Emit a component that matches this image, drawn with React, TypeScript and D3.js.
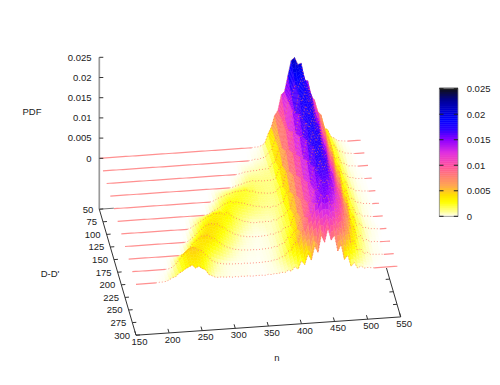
import { useEffect, useRef } from "react";
import * as d3 from "d3";

// D-D' rows and n columns of the table below
const dRows = [50, 75, 100, 125, 150, 175, 200, 225, 250, 275, 300];
const nCols = d3.range(150, 550, 5);

// PDF x 10^4, one line per 50 in n
const row50 = [
  0,0,0,0,0,0,0,0,0,0, 0,0,0,0,0,0,0,0,0,0, 0,0,0,0,0,0,0,0,0,0, 0,0,0,0,0,0,0,0,0,0,
  0,0,0,0,0,0,0,1,1,4, 9,31,48,76,88,126,134,172,209,216,
  198,201,158,156,118,108,78,70,36,32, 14,10,3,2,1,0,0,0,0,0];
const row75 = [
  0,0,0,0,0,0,0,0,0,0, 0,0,0,0,0,0,0,0,0,0, 0,0,0,0,0,0,0,0,0,0, 0,0,0,0,0,0,0,0,0,0,
  0,0,0,0,0,1,3,2,5,6, 16,23,48,62,95,97,139,148,180,174,
  195,172,172,132,123,88,84,55,46,23, 24,9,8,3,2,1,0,0,0,0];
const row100 = [
  0,0,0,0,0,0,0,0,0,0, 0,0,0,0,0,0,0,0,0,0, 0,0,0,0,0,0,0,0,0,0, 0,0,0,0,0,0,0,0,0,0,
  1,3,5,5,7,6,8,8,9,9, 21,25,56,58,104,99,151,141,187,169,
  194,167,180,128,134,83,90,49,51,21, 26,10,9,2,2,1,0,0,0,0];
const row125 = [
  0,0,0,0,0,0,0,0,0,0, 0,0,0,0,0,0,0,0,0,0, 0,0,0,0,0,0,0,0,0,0, 0,0,0,0,0,0,0,1,4,6,
  8,11,12,14,12,13,11,12,12,12, 16,39,46,81,84,128,123,171,158,190,
  167,188,146,153,106,109,67,70,33,37, 16,16,5,5,2,1,1,0,0,0];
const row150 = [
  0,0,0,0,0,0,0,0,0,0, 0,0,0,0,0,0,0,0,0,0, 0,0,0,0,0,0,0,0,0,0, 2,6,10,12,16,17,20,22,22,23,
  24,20,20,16,14,14,12,12,12,15, 25,26,62,63,107,104,148,146,181,167,
  190,160,171,125,130,83,90,48,55,21, 28,10,10,3,3,1,1,0,0,0];
const row175 = [
  0,0,0,0,0,0,0,0,0,0, 0,0,0,0,0,0,0,0,0,0, 0,0,0,0,0,0,0,1,5,10, 13,18,24,26,30,26,28,24,24,20,
  18,15,13,13,9,12,8,11,10,16, 19,42,44,84,83,128,123,169,157,188,
  164,185,141,148,102,107,65,70,30,39, 14,18,6,6,2,2,1,0,0,0];
const row200 = [
  0,0,0,0,0,0,0,0,0,0, 0,0,0,0,0,0,0,0,0,0, 0,3,8,12,18,22,28,30,35,34, 36,30,36,28,22,18,14,10,9,6,
  5,5,6,5,7,4,9,8,15,16, 28,33,67,65,109,106,151,141,183,162,
  187,155,165,120,125,79,86,44,51,18, 26,8,10,2,3,1,0,0,0,0];
const row225 = [
  0,0,0,0,0,0,0,0,0,0, 0,0,0,0,0,0,0,0,0,2, 8,14,22,28,36,40,42,40,40,32, 30,22,18,12,10,6,5,3,3,2,
  2,2,3,3,6,5,10,9,19,20, 23,48,55,86,88,128,125,165,153,181,
  157,176,134,141,97,102,62,67,26,37, 12,17,5,6,2,2,1,0,0,0];
const row250 = [
  0,0,0,0,0,0,0,0,0,0, 0,0,0,0,0,0,1,6,14,24, 32,38,44,44,46,38,36,28,22,16, 12,9,6,5,3,3,2,2,2,1,
  2,2,3,3,6,6,12,12,26,26, 40,44,72,74,109,111,139,139,165,153,
  164,141,143,107,111,72,72,39,42,12, 20,5,8,1,2,1,0,0,0,0];
const row275 = [
  0,0,0,0,0,0,0,0,0,0, 0,1,4,10,20,30,38,46,50,48, 42,40,30,24,14,10,6,5,3,3, 2,2,2,1,2,1,1,1,1,1,
  2,2,3,5,6,11,12,24,26,44, 44,70,72,104,108,138,136,160,146,158,
  128,134,96,108,62,72,34,40,14,18, 5,8,2,2,1,1,0,0,0,0];
const row300 = [
  0,0,0,0,0,0,0,1,1,2, 5,10,12,20,24,30,34,38,30,34, 28,24,12,8,4,3,4,2,3,1, 2,1,2,1,2,0,1,1,1,0,
  2,1,3,2,5,3,9,6,16,10, 30,20,46,30,64,48,90,72,106,76,
  88,48,64,26,36,8,16,2,7,1, 2,1,0,0,0,0,0,0,0,0];
const pdfRows = [row50, row75, row100, row125, row150, row175, row200, row225, row250, row275, row300];

// tick labels
const nTicks = [150, 200, 250, 300, 350, 400, 450, 500, 550];
const dTicks = [50, 75, 100, 125, 150, 175, 200, 225, 250, 275, 300];
const zTicks = [0, 0.005, 0.01, 0.015, 0.02, 0.025];

// palette, PDF x 10^4
const paletteStops = [0, 10, 28, 42, 60, 78, 100, 125, 150, 170, 190, 225, 250];
const paletteColors = ["#ffffff", "#ffff90", "#ffff00", "#ffe000", "#ffa850", "#ff8070", "#ff50a0", "#e030e0", "#9000ff", "#3000ff", "#0000ff", "#0000a0", "#101018"];

const FONT = "'Liberation Sans', Arial, sans-serif";
const Z_FLOOR = -0.0126;
const SUBSTEPS = 6;

export default function App() {
  const ref = useRef<SVGSVGElement>(null);

  useEffect(() => {
    const svg = d3.select(ref.current);
    svg.selectAll("*").remove();

    const nx = d3.scaleLinear().domain([150, 550]).range([0, 264.7]);
    const ny = d3.scaleLinear().domain([150, 550]).range([0, -18.3]);
    const dx = d3.scaleLinear().domain([50, 300]).range([99.3, 136]);
    const dy = d3.scaleLinear().domain([50, 300]).range([158.3, 284.3]);
    const zy = d3.scaleLinear().domain([0, 0.025]).range([0, -101]);
    const project = (n: number, d: number, z: number): [number, number] => [
      nx(n) + dx(d),
      ny(n) + dy(d) + zy(z),
    ];
    const color = d3.scaleLinear<string>().domain(paletteStops).range(paletteColors).interpolate(d3.interpolateRgb);

    // surface, back to front, each cell split in bands like pm3d interpolate
    const surface = svg.append("g");
    for (let j = 0; j < dRows.length - 1; j++) {
      for (let k = 0; k < SUBSTEPS; k++) {
        const t0 = k / SUBSTEPS;
        const t1 = (k + 1) / SUBSTEPS;
        const d0 = dRows[j] + (dRows[j + 1] - dRows[j]) * t0;
        const d1 = dRows[j] + (dRows[j + 1] - dRows[j]) * t1;
        for (let i = nCols.length - 2; i >= 0; i--) {
          const at = (c: number, t: number) => pdfRows[j][c] * (1 - t) + pdfRows[j + 1][c] * t;
          const v = [at(i, t0), at(i + 1, t0), at(i + 1, t1), at(i, t1)];
          if (d3.max(v) === 0) continue;
          const pts = [
            project(nCols[i], d0, v[0] * 1e-4),
            project(nCols[i + 1], d0, v[1] * 1e-4),
            project(nCols[i + 1], d1, v[2] * 1e-4),
            project(nCols[i], d1, v[3] * 1e-4),
          ];
          const fill = color(d3.mean(v) as number);
          surface.append("path")
            .attr("d", "M" + pts.join("L") + "Z")
            .attr("fill", fill)
            .attr("stroke", fill)
            .attr("stroke-width", 0.4);
        }
      }
    }

    // row lines: solid where the row is flat, dotted where it has data
    const lines = svg.append("g").attr("fill", "none");
    dRows.forEach((d, j) => {
      const vals = pdfRows[j];
      const line = (keep: (i: number) => boolean) =>
        d3.line<number>()
          .defined((_, i) => keep(i))
          .x((n, i) => project(n, d, vals[i] * 1e-4)[0])
          .y((n, i) => project(n, d, vals[i] * 1e-4)[1])(nCols);
      lines.append("path")
        .attr("d", line((i) => vals[i] === 0))
        .attr("stroke", "#ff9090")
        .attr("stroke-width", 1.2);
      lines.append("path")
        .attr("d", line((i) => vals[i] > 0 || vals[i - 1] > 0 || vals[i + 1] > 0))
        .attr("stroke", "#ff6a5a")
        .attr("stroke-width", 0.9)
        .attr("stroke-dasharray", "1 2")
        .attr("opacity", 0.8);
    });

    const axes = svg.append("g").attr("fill", "none");
    const seg = (a: [number, number], b: [number, number], stroke: string, w = 1) =>
      axes.append("line")
        .attr("x1", a[0]).attr("y1", a[1]).attr("x2", b[0]).attr("y2", b[1])
        .attr("stroke", stroke).attr("stroke-width", w);
    const text = (x: number, y: number, s: string, anchor = "middle") =>
      svg.append("text")
        .attr("x", x).attr("y", y)
        .attr("dy", "0.35em")
        .attr("text-anchor", anchor)
        .attr("font-family", FONT)
        .attr("font-size", 9.5)
        .attr("fill", "#222")
        .text(s);

    // z axis
    seg(project(150, 50, 0.025), project(150, 50, Z_FLOOR), "#9a9a9a", 1.7);
    seg(project(150, 50, Z_FLOOR), project(172, 50, Z_FLOOR), "#777");
    zTicks.forEach((z) => {
      const p = project(150, 50, z);
      seg(p, [p[0] + 4, p[1]], "#333");
      text(91.5, p[1], String(z), "end");
    });

    // base edges
    seg(project(150, 50, Z_FLOOR), project(150, 300, Z_FLOOR), "#333");
    seg(project(150, 300, Z_FLOOR), project(550, 300, Z_FLOOR), "#333");
    seg(project(550, 203, Z_FLOOR), project(550, 300, Z_FLOOR), "#333");

    nTicks.forEach((n) => {
      const p = project(n, 300, Z_FLOOR);
      const q = project(n, 292, Z_FLOOR);
      seg(p, q, "#333");
      text(p[0] + 3.5, p[1] + 6.5, String(n));
    });
    dTicks.forEach((d) => {
      const p = project(150, d, Z_FLOOR);
      seg(p, project(156, d, Z_FLOOR), "#333");
      text(p[0] - 6, p[1], String(d), "end");
      if (d >= 225 && d < 300) {
        seg(project(550, d, Z_FLOOR), project(544, d, Z_FLOOR), "#333");
      }
    });

    text(32, 112, "PDF");
    text(50, 274, "D-D'");
    text(277, 357.5, "n");

    // colour bar
    const barY = d3.scaleLinear().domain([0, 250]).range([216.3, 88.7]);
    const bar = svg.append("g");
    d3.range(0, 250, 4).forEach((v) => {
      bar.append("rect")
        .attr("x", 439.3)
        .attr("width", 18.7)
        .attr("y", barY(v + 4))
        .attr("height", barY(v) - barY(v + 4) + 0.4)
        .attr("fill", color(v + 2));
    });
    bar.append("rect")
      .attr("x", 439.3).attr("y", 88.7).attr("width", 18.7).attr("height", 127.6)
      .attr("fill", "none").attr("stroke", "#888").attr("stroke-width", 0.8);
    zTicks.forEach((z) => {
      const y = barY(z * 1e4);
      bar.append("line").attr("x1", 439.3).attr("x2", 443.5).attr("y1", y).attr("y2", y).attr("stroke", "#222");
      bar.append("line").attr("x1", 453.8).attr("x2", 458).attr("y1", y).attr("y2", y).attr("stroke", "#222");
      text(466.7, y, String(z), "start");
    });
  }, []);

  return (
    <svg
      ref={ref}
      width={500}
      height={385}
      style={{ position: "absolute", left: 0, top: 0, display: "block", background: "#fff" }}
    />
  );
}
